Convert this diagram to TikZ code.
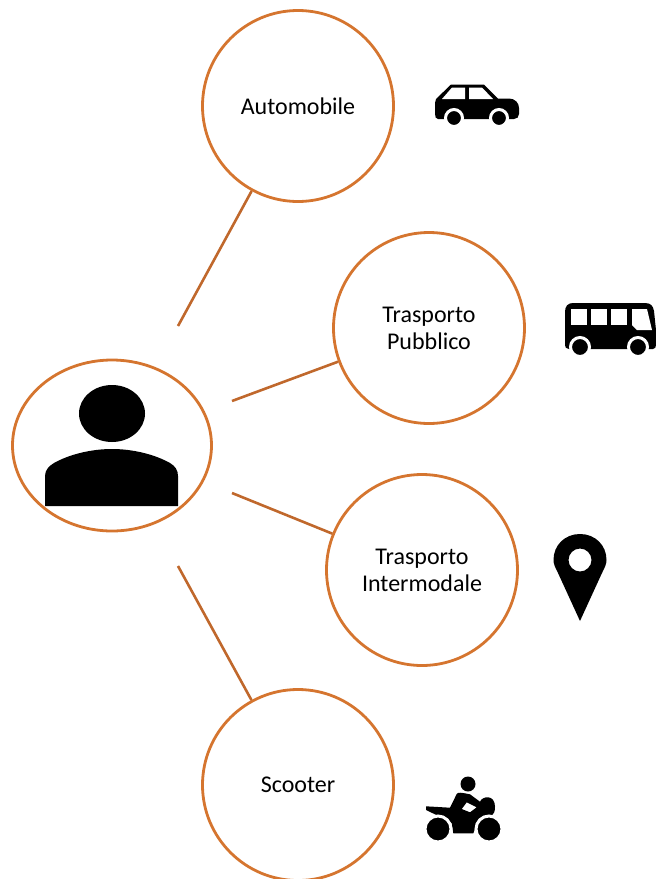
\documentclass[tikz,border=0pt]{standalone}
\usepackage{fontspec}
\setmainfont{Carlito}
\usetikzlibrary{shapes.geometric}
\definecolor{ringorange}{HTML}{D5752F}
\definecolor{lineorange}{HTML}{C0682C}
\tikzset{
  modecircle/.style={circle, draw=ringorange, line width=2.8pt, minimum size=191pt, inner sep=0pt, align=center, font=\fontsize{24}{27}\selectfont},
  userellipse/.style={ellipse, draw=ringorange, line width=2.8pt, minimum width=199pt, minimum height=171pt, inner sep=0pt},
  linkline/.style={draw=lineorange, line width=2.6pt},
  wheel/.style={fill=black, draw=white, line width=3pt}
}
\begin{document}
\begin{tikzpicture}[x=1pt, y=-1pt]
    \useasboundingbox (0, 0) rectangle (656, 879);
    \node[userellipse] (user) at (112, 445.5) {};
    \node[modecircle] (auto) at (298, 106) {Automobile};
    \node[modecircle] (bus) at (429, 328) {Trasporto\\Pubblico};
    \node[modecircle] (inter) at (422, 570) {Trasporto\\Intermodale};
    \node[modecircle] (scooter) at (298, 785) {Scooter};
    \coordinate (startauto) at (178, 326);
    \coordinate (startbus) at (232, 401);
    \coordinate (startinter) at (232, 493);
    \coordinate (startscooter) at (178, 566);
    \draw[linkline] (startauto) -- (auto);
    \draw[linkline] (startbus) -- (bus);
    \draw[linkline] (startinter) -- (inter);
    \draw[linkline] (startscooter) -- (scooter);
    % person
    \fill (112, 413.5) ellipse [x radius=33, y radius=28.5];
    \fill (45, 506) -- (45, 476) .. controls (45, 470) and (49, 466) .. (54, 463)
      .. controls (70, 454) and (92, 449) .. (112, 449)
      .. controls (132, 449) and (154, 454) .. (170, 463)
      .. controls (175, 466) and (178, 470) .. (178, 476) -- (178, 506) -- cycle;
    % car
    \fill (435, 103) -- (436, 99) -- (451, 84.5) -- (484, 84.5) -- (498, 98.5) -- (509, 98.5)
      .. controls (515, 98.5) and (519, 103) .. (519, 108) -- (519, 114)
      .. controls (519, 117) and (517, 119) .. (514, 119) -- (438, 119)
      .. controls (436, 119) and (435, 117) .. (435, 114) -- cycle;
    \fill[white] (442, 99) -- (452, 87.5) -- (465, 87.5) -- (465, 99) -- cycle;
    \fill[white] (469, 87.5) -- (482, 87.5) -- (493, 99) -- (469, 99) -- cycle;
    \draw[wheel] (454, 118) circle (8.5);
    \draw[wheel] (499, 118) circle (8.5);
    % bus
    \fill (565, 312) .. controls (565, 306) and (568, 303) .. (573, 303) -- (645, 303)
      .. controls (651, 303) and (653, 306) .. (654, 311) -- (656, 330) -- (656, 345)
      .. controls (656, 347) and (655, 349) .. (653, 349) -- (569, 349)
      .. controls (566, 349) and (565, 347) .. (565, 345) -- cycle;
    \fill[white] (571, 309) rectangle (587, 325);
    \fill[white] (591, 309) rectangle (607, 325);
    \fill[white] (611, 309) rectangle (627, 325);
    \fill[white] (632, 309) -- (647, 309) -- (652, 330) -- (637, 330) -- (632, 325) -- cycle;
    \draw[wheel] (580, 347) circle (9.5);
    \draw[wheel] (638, 347) circle (9.5);
    % pin
    \fill[even odd rule] (580, 621) -- (558, 573)
      .. controls (555, 567) and (553.5, 564) .. (553.5, 560)
      .. controls (553.5, 545) and (565, 534) .. (580, 534)
      .. controls (595, 534) and (606.5, 545) .. (606.5, 560)
      .. controls (606.5, 564) and (605, 567) .. (602, 573) -- cycle
      (580, 560) circle (11.5);
    % scooter
    \fill (468, 784) circle (7.5);
    \fill[even odd rule] (426, 806.3) -- (450, 807.7) -- (456.7, 794)
      .. controls (458, 792) and (461, 792.5) .. (470, 794.3) -- (480, 801.7)
      .. controls (482, 796) and (495, 794) .. (495, 806.7)
      .. controls (495, 811) and (494, 814) .. (492.3, 815)
      -- (478.3, 820) -- (473.3, 833.3) -- (453.3, 833.3) -- (451.7, 823.3)
      -- (443.3, 818.3) -- (426, 810) -- cycle
      (461.7, 809) -- (466.7, 802.3) -- (476.7, 807.3) -- (470, 812.3) -- cycle;
    \draw[wheel] (438, 829) circle (13);
    \draw[wheel] (489, 829) circle (13);
  \end{tikzpicture}
\end{document}
